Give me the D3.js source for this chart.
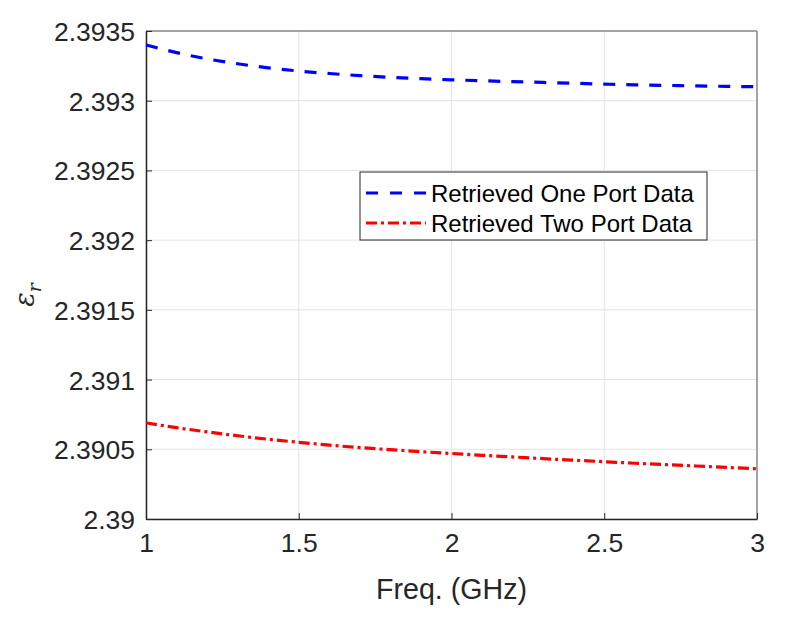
<!DOCTYPE html>
<html>
<head>
<meta charset="utf-8">
<script src="https://cdn.jsdelivr.net/npm/d3@7"></script>
<style>
  body { margin: 0; background: #fff; }
  text { font-family: "Liberation Sans", Arial, sans-serif; }
</style>
</head>
<body>
<svg id="graph" width="785" height="619"></svg>
<script>
var freq = [1.0, 1.1, 1.2, 1.3, 1.4, 1.5, 1.6, 1.7, 1.8, 1.9, 2.0,
            2.1, 2.2, 2.3, 2.4, 2.5, 2.6, 2.7, 2.8, 2.9, 3.0]

var onePort = [2.393400, 2.393345, 2.393300, 2.393265, 2.393236, 2.393213, 2.393195,
               2.393180, 2.393168, 2.393158, 2.393150, 2.393143, 2.393137, 2.393131,
               2.393125, 2.393119, 2.393114, 2.393110, 2.393106, 2.393103, 2.393100]

var twoPort = [2.390690, 2.390655, 2.390625, 2.390597, 2.390572, 2.390550, 2.390530,
               2.390512, 2.390497, 2.390483, 2.390470, 2.390457, 2.390445, 2.390433,
               2.390422, 2.390411, 2.390400, 2.390390, 2.390380, 2.390370, 2.390360]

var xTicks = [1, 1.5, 2, 2.5, 3]
var yTicks = [2.39, 2.3905, 2.391, 2.3915, 2.392, 2.3925, 2.393, 2.3935]
var seriesNames = ["Retrieved One Port Data", "Retrieved Two Port Data"]

var margin = { top: 31, right: 28, bottom: 100, left: 146 }
var width = 785 - margin.left - margin.right
var height = 619 - margin.top - margin.bottom

var svg = d3.select("#graph").append("g")
    .attr("transform", "translate(" + margin.left + "," + margin.top + ")")

var xScale = d3.scaleLinear().domain([1, 3]).range([0, width])
var yScale = d3.scaleLinear().domain([2.39, 2.3935]).range([height, 0])

// grid
svg.selectAll(".gx").data(xTicks).enter().append("line")
    .attr("x1", d => xScale(d)).attr("x2", d => xScale(d))
    .attr("y1", 0).attr("y2", height)
    .attr("stroke", "#e3e3e3").attr("stroke-width", 1)
svg.selectAll(".gy").data(yTicks).enter().append("line")
    .attr("y1", d => yScale(d)).attr("y2", d => yScale(d))
    .attr("x1", 0).attr("x2", width)
    .attr("stroke", "#e3e3e3").attr("stroke-width", 1)

// top / right box
svg.append("line").attr("x1", 0).attr("x2", width).attr("y1", 0).attr("y2", 0)
    .attr("stroke", "#8a8a8a").attr("stroke-width", 1.5)
svg.append("line").attr("x1", width).attr("x2", width).attr("y1", 0).attr("y2", height)
    .attr("stroke", "#8a8a8a").attr("stroke-width", 1.5)

var xAxis = svg.append("g")
    .attr("transform", "translate(0," + height + ")")
    .call(d3.axisBottom(xScale).tickValues(xTicks).tickFormat(d3.format("")).tickSizeInner(-6).tickSizeOuter(0).tickPadding(14))
var yAxis = svg.append("g")
    .call(d3.axisLeft(yScale).tickValues(yTicks).tickFormat(d => String(d)).tickSizeInner(-6).tickSizeOuter(0).tickPadding(11))

;[xAxis, yAxis].forEach(function (a) {
    a.select(".domain").attr("stroke", "#262626").attr("stroke-width", 1.5)
    a.selectAll(".tick line").attr("stroke", "#262626")
    a.selectAll("text").attr("fill", "#262626").style("font-size", "26.5px")
        .style("font-family", "'Liberation Sans', Arial, sans-serif")
})
xAxis.selectAll("text").attr("dy", "0.71em")
yAxis.selectAll("text").attr("dy", "0.36em")

var line = d3.line()
    .curve(d3.curveMonotoneX)
    .x((d, i) => xScale(freq[i]))
    .y(d => yScale(d))

svg.append("path").datum(onePort)
    .attr("d", line).attr("fill", "none")
    .attr("stroke", "#0000ff").attr("stroke-width", 3.2)
    .attr("stroke-dasharray", "12,11")

svg.append("path").datum(twoPort)
    .attr("d", line).attr("fill", "none")
    .attr("stroke", "#ff0000").attr("stroke-width", 3.2)
    .attr("stroke-dasharray", "11,4,3,4")

// axis titles
svg.append("text")
    .attr("x", width / 2).attr("y", height + 80)
    .attr("text-anchor", "middle")
    .attr("fill", "#262626")
    .style("font-size", "28.6px")
    .text("Freq. (GHz)")

var yl = svg.append("text")
    .attr("transform", "translate(-112," + (height / 2 + 20) + ") rotate(-90)")
    .attr("text-anchor", "middle")
    .attr("fill", "#262626")
    .style("font-family", "'DejaVu Serif', serif")
yl.append("tspan").style("font-style", "italic").style("font-size", "27px").text("ε")
yl.append("tspan").style("font-style", "italic").style("font-size", "19px").attr("dy", 7).text("r")

// legend
var lg = svg.append("g").attr("transform", "translate(" + (360 - margin.left) + "," + (172 - margin.top) + ")")
lg.append("rect").attr("width", 347).attr("height", 68)
    .attr("fill", "#fff").attr("stroke", "#262626").attr("stroke-width", 1)
var dashes = ["12,11", "11,4,3,4"]
var colors = ["#0000ff", "#ff0000"]
seriesNames.forEach(function (name, i) {
    var cy = 21 + i * 30
    lg.append("line").attr("x1", 6).attr("x2", 66).attr("y1", cy).attr("y2", cy)
        .attr("stroke", colors[i]).attr("stroke-width", 3.2)
        .attr("stroke-dasharray", i == 0 ? "12,12" : dashes[i])
    lg.append("text").attr("x", 71).attr("y", cy).attr("dy", "0.36em")
        .style("font-size", "24px").attr("fill", "#000").text(name)
})
</script>
</body>
</html>
